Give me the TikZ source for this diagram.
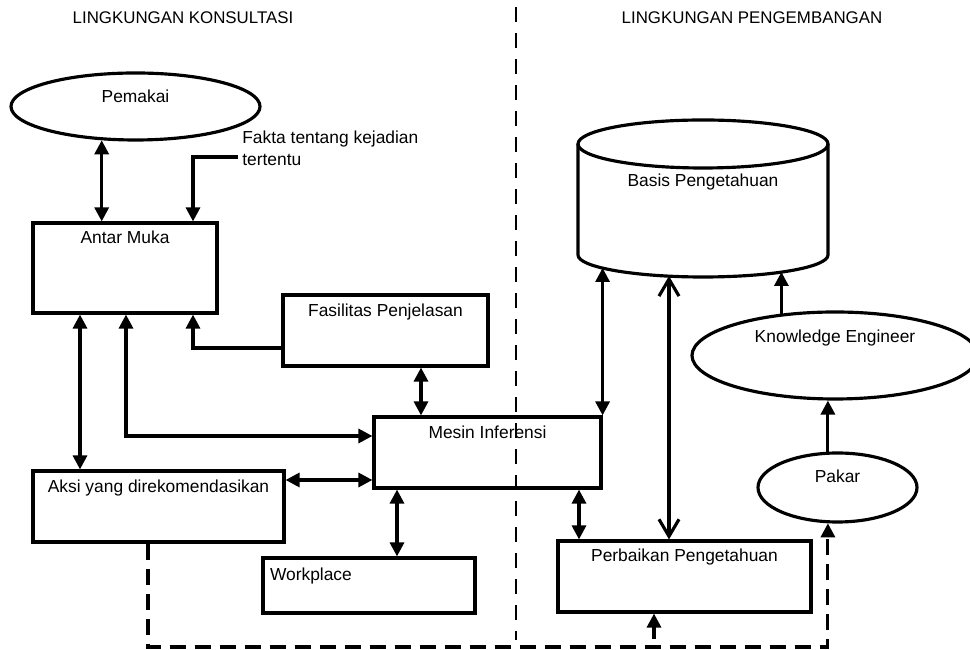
\documentclass[tikz,border=0pt]{standalone}
\usepackage{fontspec}
\setmainfont{Liberation Sans}
\usetikzlibrary{arrows.meta,shapes.geometric}

\begin{document}
\begin{tikzpicture}[x=2mm, y=2mm,
		every node/.style={font=\fontsize{9.9}{12.5}\selectfont},
		title/.style={font=\fontsize{9.6}{12}\selectfont},
		box/.style={draw, rectangle, line width=1.8pt, inner sep=0pt},
		oval/.style={draw, ellipse, line width=1.8pt, inner sep=0pt},
		link/.style={line width=1.8pt, -{Triangle[length=2.8mm, width=2.8mm]}},
		dlink/.style={line width=1.8pt, {Triangle[length=2.8mm, width=2.8mm]}-{Triangle[length=2.8mm, width=2.8mm]}},
		openlink/.style={line width=1.8pt, {Straight Barb[length=3.4mm, width=4mm]}-{Straight Barb[length=3.4mm, width=4mm]}},
		border/.style={line width=1.6pt, dash pattern=on 3mm off 2.2mm},
		feedback/.style={line width=1.8pt, dash pattern=on 3.2mm off 1.8mm}]
		\useasboundingbox (0, 0) rectangle (97, 65);

		\node[title] (konsultasi) at (18.3, 63.2) {LINGKUNGAN KONSULTASI};
		\node[title] (pengembangan) at (75.2, 63.2) {LINGKUNGAN PENGEMBANGAN};

		% lingkungan konsultasi
		\node[oval, minimum width=49.8mm, minimum height=13.4mm, text height=2mm, text depth=3.4mm] (pemakai) at (13.55, 54.35) {Pemakai};
		\node[anchor=west, align=left, inner sep=0pt] (fakta) at (24.2, 50.15) {Fakta tentang kejadian\\tertentu};
		\coordinate (faktain) at (23.8, 49.3);

		\node[box, minimum width=36.8mm, text height=4.2mm, text depth=13.8mm] (antar) at (12.5, 38.2) {Antar Muka};
		\node[box, minimum width=41mm, text height=4.4mm, text depth=9.8mm] (fasilitas) at (38.55, 31.95) {Fasilitas Penjelasan};
		\node[box, minimum width=45.4mm, text height=4.4mm, text depth=9.8mm] (mesin) at (48.75, 19.75) {Mesin Inferensi};
		\node[box, minimum width=50.2mm, text height=4.4mm, text depth=9.8mm] (aksi) at (15.85, 14.35) {Aksi yang direkomendasikan};
		\node[box, text width=39.6mm, inner xsep=1.4mm, align=left, text height=4.6mm, text depth=6.4mm] (workplace) at (36.9, 6.45) {Workplace};

		% lingkungan pengembangan
		\node[minimum width=50mm, inner sep=0pt, outer sep=0pt, text height=8.6mm, text depth=13.6mm] (basis) at (70.3, 45.05) {Basis Pengetahuan};
		\draw[line width=1.8pt] (basis.north west) -- (basis.south west) arc[start angle=180, end angle=360, x radius=25mm, y radius=4.4mm] -- (basis.north east);
		\draw[line width=1.8pt] (basis.north) ellipse[x radius=25mm, y radius=4.8mm];

		\node[oval, minimum width=57.2mm, minimum height=17.4mm, text height=0mm, text depth=5mm] (engineer) at (83.5, 29.45) {Knowledge Engineer};
		\node[oval, minimum width=31.8mm, minimum height=13.8mm, text height=0mm, text depth=1.8mm] (pakar) at (83.75, 16.25) {Pakar};
		\node[box, minimum width=50.6mm, text height=4.2mm, text depth=10mm] (perbaikan) at (68.45, 7.35) {Perbaikan Pengetahuan};

		\draw[dlink] (pemakai.-135.2) -- (pemakai.-135.2 |- antar.north);
		\draw[link] (faktain) -| (antar.north -| 19.3, 0);
		\draw[link] (fasilitas.west |- 0, 30.2) -| (antar.south -| 19.3, 0);
		\draw[dlink] (mesin.west |- 0, 21.4) -| (antar.south -| 12.6, 0);
		\draw[dlink] (antar.south -| 8, 0) -- (aksi.north -| 8, 0);
		\draw[dlink] (aksi.east |- 0, 17) -- (mesin.west |- 0, 17);
		\draw[dlink] (fasilitas.south -| 42.1, 0) -- (mesin.north -| 42.1, 0);
		\draw[dlink] (mesin.south -| 39.7, 0) -- (workplace.north -| 39.7, 0);

		\draw[dlink, shorten >=2.6mm] (mesin.north east) -- (mesin.north east |- basis.south);
		\draw[dlink] (mesin.south -| 57.9, 0) -- (perbaikan.north -| 57.9, 0);
		\draw[openlink, shorten <=4.2mm] (basis.south -| 66.9, 0) -- (perbaikan.north -| 66.9, 0);
		\draw[link, shorten >=3.4mm] (engineer.142.1) -- (engineer.142.1 |- basis.south);
		\draw[link] (pakar.105.5) -- (pakar.105.5 |- engineer.south);

		% umpan balik
		\coordinate (fbcorner) at (14.8, 0.3);
		\coordinate (fbtap) at (65.4, 1.1);
		\draw[feedback, -{Triangle[length=2.8mm, width=2.8mm]}] (aksi.south -| fbcorner) -- (fbcorner) -| (pakar.-105.5);
		\draw[link] (fbtap) -- (fbtap |- perbaikan.south);

		\coordinate (divtop) at (51.6, 64.3);
		\coordinate (divbot) at (51.6, 1);
		\draw[border] (divtop) -- (divbot);
	\end{tikzpicture}
\end{document}
